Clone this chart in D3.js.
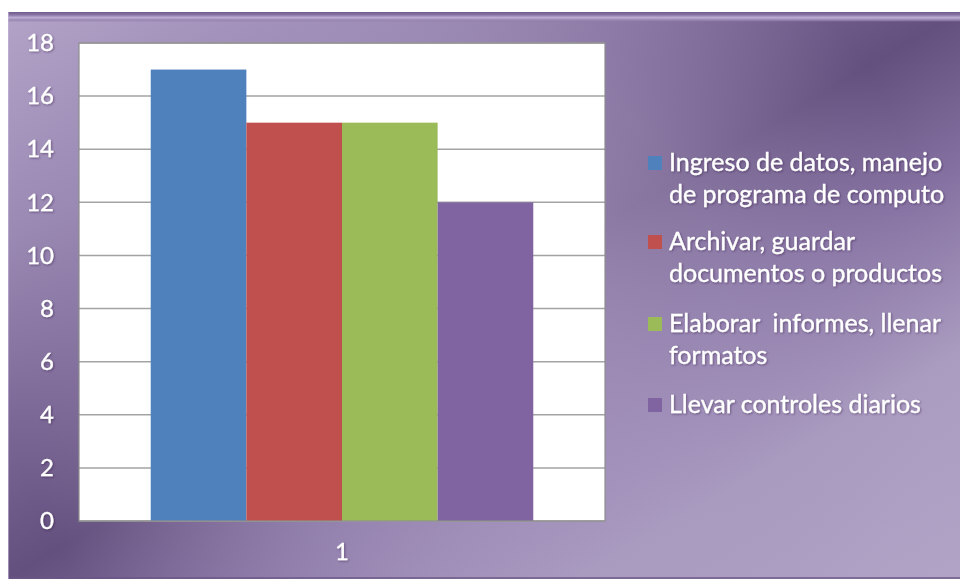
<!DOCTYPE html>
<html>
<head>
<meta charset="utf-8">
<script src="https://cdn.jsdelivr.net/npm/d3@7"></script>
<style>
  html, body { margin: 0; padding: 0; background: #ffffff; }
  svg { display: block; }
  text { font-family: Lato, "Open Sans", sans-serif; fill: #ffffff; white-space: pre; }
</style>
</head>
<body>
<svg id="chart" width="960" height="581"></svg>
<script>
// Chart data
const categories = ["1"];
const seriesNames = [
  "Ingreso de datos, manejo de programa de computo",
  "Archivar, guardar documentos o productos",
  "Elaborar  informes, llenar formatos",
  "Llevar controles diarios"
];
const seriesLines = [
  ["Ingreso de datos, manejo", "de programa de computo"],
  ["Archivar, guardar", "documentos o productos"],
  ["Elaborar  informes, llenar", "formatos"],
  ["Llevar controles diarios"]
];
const seriesValues = [17, 15, 15, 12];
const seriesColors = ["#4f81bd", "#c0504d", "#9bbb59", "#8064a2"];
const yTicks = [0, 2, 4, 6, 8, 10, 12, 14, 16, 18];

const svg = d3.select("#chart");
const defs = svg.append("defs");

// Diagonal purple backdrop
const bg = defs.append("linearGradient").attr("id", "bgGrad")
  .attr("x1", 0).attr("y1", 0).attr("x2", 1).attr("y2", 1);
[[0, "#b3a3c8"], [0.2, "#9a89b3"], [0.36, "#7c6896"], [0.5, "#64507e"],
 [0.64, "#8672a2"], [0.8, "#aa9bc0"], [1, "#b1a3c6"]]
  .forEach(([o, c]) => bg.append("stop").attr("offset", o).attr("stop-color", c));

// Soft light glow in the middle of the backdrop
const glow = defs.append("radialGradient").attr("id", "glowGrad")
  .attr("gradientUnits", "userSpaceOnUse")
  .attr("cx", 470).attr("cy", 320).attr("r", 470);
[[0, "rgba(178,162,200,0.75)"], [0.55, "rgba(170,154,194,0.45)"], [1, "rgba(160,144,186,0)"]]
  .forEach(([o, c]) => glow.append("stop").attr("offset", o).attr("stop-color", c));

// Top bevel highlight
const bevel = defs.append("linearGradient").attr("id", "bevelGrad")
  .attr("x1", 0).attr("y1", 0).attr("x2", 0).attr("y2", 1);
[[0, "#6f5a8c"], [0.3, "#8a76a6"], [0.55, "#bcacd3"], [0.8, "#9a88b4"], [1, "rgba(140,120,165,0)"]]
  .forEach(([o, c]) => bevel.append("stop").attr("offset", o).attr("stop-color", c));

// Soft shadow behind the white text
const shadow = defs.append("filter").attr("id", "txtShadow")
  .attr("x", "-10%").attr("y", "-30%").attr("width", "130%").attr("height", "160%");
shadow.append("feDropShadow").attr("dx", 1).attr("dy", 1).attr("stdDeviation", 0.8)
  .attr("flood-color", "#2a1c3c").attr("flood-opacity", 0.45);

const panel = { x: 8, y: 12, w: 952, h: 567 };
svg.append("rect").attr("x", panel.x).attr("y", panel.y)
  .attr("width", panel.w).attr("height", panel.h).attr("fill", "url(#bgGrad)");
svg.append("rect").attr("x", panel.x).attr("y", panel.y)
  .attr("width", panel.w).attr("height", panel.h).attr("fill", "url(#glowGrad)");
svg.append("rect").attr("x", panel.x).attr("y", panel.y)
  .attr("width", panel.w).attr("height", 10).attr("fill", "url(#bevelGrad)");
svg.append("rect").attr("x", panel.x).attr("y", panel.y + panel.h - 2)
  .attr("width", panel.w).attr("height", 2).attr("fill", "#6a5684").attr("opacity", 0.7);
svg.append("rect").attr("x", panel.x).attr("y", panel.y)
  .attr("width", 1).attr("height", panel.h).attr("fill", "#c4b6d8").attr("opacity", 0.6);

// Plot area
const plot = { left: 79, right: 605, top: 43, bottom: 521 };
const y = d3.scaleLinear().domain([0, 18]).range([plot.bottom, plot.top]);
const x0 = d3.scaleBand().domain(categories).range([plot.left, plot.right])
  .paddingInner(0).paddingOuter(0.1875);
const x1 = d3.scaleBand().domain(seriesNames).range([0, x0.bandwidth()]).padding(0);

svg.append("rect").attr("x", plot.left).attr("y", plot.top)
  .attr("width", plot.right - plot.left).attr("height", plot.bottom - plot.top)
  .attr("fill", "#ffffff");

// Gridlines
svg.append("g").selectAll("line").data(yTicks).join("line")
  .attr("x1", plot.left).attr("x2", plot.right)
  .attr("y1", d => y(d)).attr("y2", d => y(d))
  .attr("stroke", "#a3a3a3").attr("stroke-width", 1.5);

// Bars
const groups = svg.append("g").selectAll("g").data(categories).join("g")
  .attr("transform", d => `translate(${x0(d)},0)`);
groups.selectAll("rect")
  .data(() => seriesNames.map((s, i) => ({ s, v: seriesValues[i], c: seriesColors[i] })))
  .join("rect")
  .attr("x", d => x1(d.s)).attr("width", x1.bandwidth())
  .attr("y", d => y(d.v)).attr("height", d => y(0) - y(d.v))
  .attr("fill", d => d.c);

// Plot border
svg.append("rect").attr("x", plot.left).attr("y", plot.top)
  .attr("width", plot.right - plot.left).attr("height", plot.bottom - plot.top)
  .attr("fill", "none").attr("stroke", "#8e8e8e").attr("stroke-width", 1.2);

// Y axis labels
const yAxis = d3.axisLeft(y).tickValues(yTicks).tickSize(0).tickPadding(25);
const yg = svg.append("g").attr("transform", `translate(${plot.left},0)`).call(yAxis);
yg.select(".domain").remove();
yg.selectAll("text").attr("font-size", 24).attr("fill", "#ffffff")
  .attr("stroke", "#ffffff").attr("stroke-width", 0.3)
  .attr("font-family", "Lato, sans-serif").attr("filter", "url(#txtShadow)");

// X axis label
const xAxis = d3.axisBottom(x0).tickSize(0).tickPadding(22);
const xg = svg.append("g").attr("transform", `translate(0,${plot.bottom})`).call(xAxis);
xg.select(".domain").remove();
xg.selectAll("text").attr("font-size", 24).attr("fill", "#ffffff")
  .attr("stroke", "#ffffff").attr("stroke-width", 0.3)
  .attr("font-family", "Lato, sans-serif").attr("filter", "url(#txtShadow)");

// Legend
const legendTops = [171, 250, 332, 413];
const legend = svg.append("g");
seriesNames.forEach((s, i) => {
  const g = legend.append("g");
  g.append("rect").attr("x", 648).attr("y", legendTops[i] - 15)
    .attr("width", 14).attr("height", 14).attr("fill", seriesColors[i]);
  g.selectAll("text").data(seriesLines[i]).join("text")
    .attr("x", 669).attr("y", (d, j) => legendTops[i] + j * 32)
    .attr("font-size", 25).attr("stroke", "#ffffff").attr("stroke-width", 0.3)
    .attr("filter", "url(#txtShadow)")
    .text(d => d);
});
</script>
</body>
</html>
